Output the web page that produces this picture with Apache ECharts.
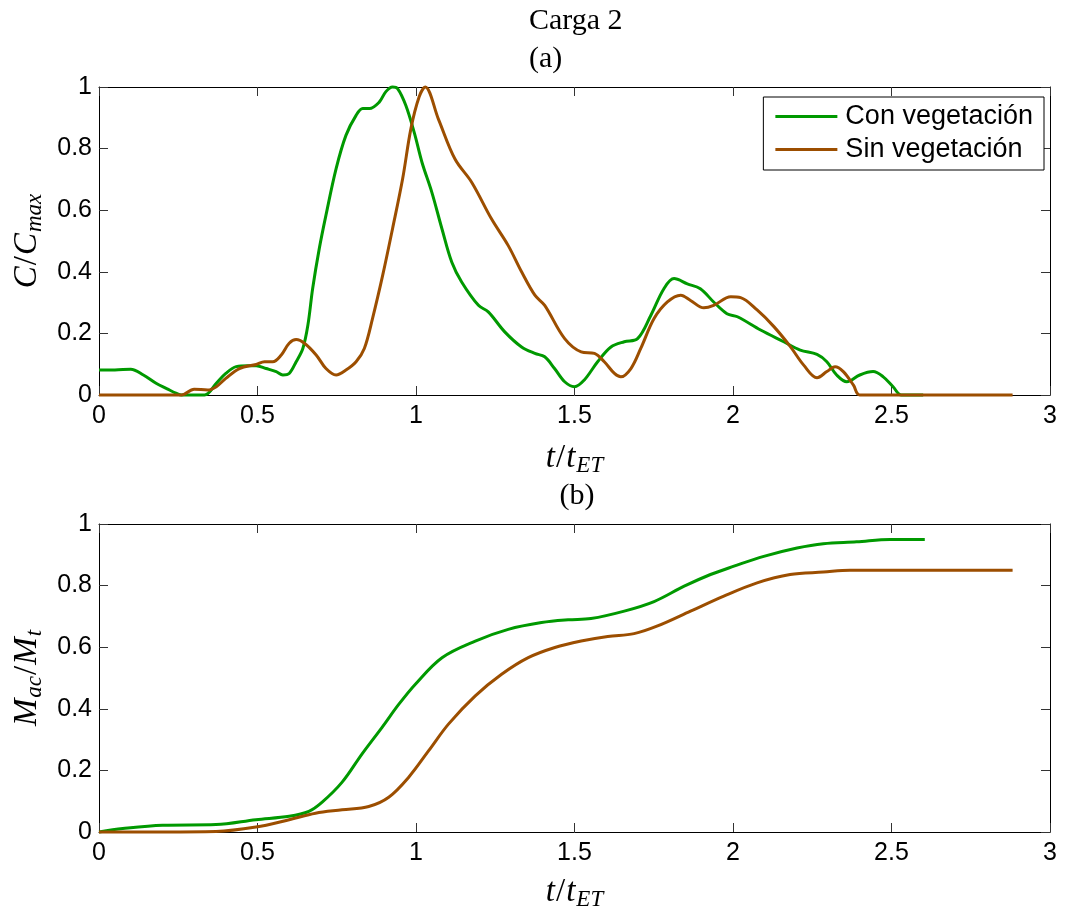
<!DOCTYPE html>
<html>
<head>
<meta charset="utf-8">
<script src="https://cdn.jsdelivr.net/npm/echarts@6/dist/echarts.min.js"></script>
<style>
html,body{margin:0;padding:0;background:#fff;}
#chart{width:1066px;height:912px;}
</style>
</head>
<body>
<div id="chart"></div>
<script>
// ---------- Data ----------
const seriesNames = ['Con vegetación', 'Sin vegetación'];
const xTicks = [0, 0.5, 1, 1.5, 2, 2.5, 3];
const yTicks = [0, 0.2, 0.4, 0.6, 0.8, 1];

// (a) C/Cmax — Con vegetación
const conA_x = [0,0.05,0.10,0.14,0.18,0.215,0.245,0.26,0.333,0.37,0.40,0.433,0.47,0.496,0.527,0.559,0.58,0.60,0.622,0.643,0.659,0.674,0.695,0.716,0.748,0.779,0.811,0.832,0.853,0.884,0.905,0.926,0.942,0.968,0.995,1.019,1.05,1.082,1.113,1.144,1.197,1.228,1.28,1.333,1.375,1.406,1.437,1.469,1.50,1.531,1.573,1.615,1.657,1.699,1.741,1.782,1.814,1.856,1.897,1.939,1.981,2.014,2.087,2.16,2.212,2.265,2.296,2.327,2.359,2.40,2.442,2.474,2.505,2.531,2.60];
const conA_y = [0.081,0.081,0.084,0.065,0.038,0.02,0.005,0,0,0.038,0.07,0.092,0.095,0.095,0.086,0.076,0.065,0.07,0.108,0.151,0.227,0.346,0.476,0.584,0.735,0.843,0.908,0.93,0.93,0.951,0.985,1.0,0.995,0.94,0.85,0.755,0.658,0.539,0.431,0.367,0.291,0.27,0.205,0.156,0.135,0.124,0.086,0.043,0.027,0.049,0.108,0.156,0.173,0.183,0.259,0.345,0.378,0.361,0.345,0.302,0.264,0.254,0.211,0.173,0.146,0.132,0.108,0.065,0.043,0.065,0.076,0.059,0.027,0,0];

// (a) C/Cmax — Sin vegetación
const sinA_x = [0,0.26,0.30,0.343,0.37,0.40,0.443,0.496,0.522,0.548,0.575,0.60,0.622,0.648,0.685,0.716,0.748,0.779,0.811,0.837,0.863,0.895,0.926,0.958,0.984,1.01,1.029,1.071,1.123,1.176,1.238,1.291,1.333,1.375,1.406,1.469,1.521,1.563,1.594,1.626,1.646,1.678,1.709,1.751,1.793,1.835,1.866,1.908,1.939,1.993,2.024,2.076,2.129,2.181,2.223,2.265,2.296,2.322,2.348,2.38,2.40,2.882];
const sinA_y = [0,0,0.019,0.016,0.027,0.054,0.086,0.099,0.108,0.108,0.13,0.168,0.18,0.168,0.13,0.086,0.065,0.081,0.108,0.151,0.249,0.389,0.54,0.703,0.865,0.968,1.0,0.895,0.766,0.69,0.572,0.485,0.4,0.324,0.291,0.183,0.14,0.135,0.108,0.07,0.059,0.086,0.151,0.248,0.302,0.324,0.307,0.283,0.291,0.319,0.316,0.276,0.222,0.157,0.097,0.056,0.076,0.092,0.076,0.032,0,0];

// (b) Mac/Mt — Con vegetación
const conB_x = [0,0.075,0.201,0.369,0.495,0.60,0.662,0.704,0.767,0.83,0.893,0.946,0.998,1.082,1.187,1.291,1.396,1.48,1.552,1.657,1.751,1.846,1.929,2.003,2.097,2.202,2.285,2.39,2.495,2.605];
const conB_y = [0,0.011,0.022,0.024,0.04,0.051,0.067,0.097,0.162,0.254,0.34,0.415,0.48,0.566,0.62,0.658,0.68,0.689,0.693,0.717,0.748,0.798,0.836,0.863,0.895,0.922,0.936,0.942,0.95,0.95];

// (b) Mac/Mt — Sin vegetación
const sinB_x = [0,0.369,0.495,0.60,0.683,0.767,0.851,0.914,0.977,1.04,1.103,1.187,1.27,1.354,1.438,1.521,1.605,1.688,1.762,1.866,1.971,2.076,2.18,2.285,2.369,2.882];
const sinB_y = [0,0.002,0.016,0.04,0.061,0.072,0.083,0.113,0.178,0.264,0.351,0.442,0.512,0.566,0.599,0.62,0.635,0.644,0.669,0.717,0.766,0.809,0.836,0.844,0.85,0.85];

// ---------- Styles ----------
const GREEN = '#009900';
const BROWN = '#9C4E00';
const SANS = '"Liberation Sans", Arial, Helvetica, sans-serif';
const SERIF = '"Liberation Serif", "DejaVu Serif", serif';

const pairs = (xs, ys) => xs.map((x, i) => [x, ys[i]]);

const mathRich = {
  i: { fontFamily: SERIF, fontStyle: 'italic', fontSize: 33, color: '#000' },
  n: { fontFamily: SERIF, fontSize: 33, color: '#000', padding: [0, 1, 0, 1] },
  s: { fontFamily: SERIF, fontStyle: 'italic', fontSize: 23, color: '#000', padding: [15, 0, 0, 1] }
};

function mainX(gi, name, gap) {
  return {
    type: 'value', gridIndex: gi, min: 0, max: 3, interval: 0.5, position: 'bottom',
    axisLine: { show: true, onZero: false, lineStyle: { color: '#000', width: 1 } },
    axisTick: { show: true, inside: true, length: 9, lineStyle: { color: '#333' } },
    axisLabel: { show: true, fontFamily: SANS, fontSize: 25, color: '#000', margin: 9,
      formatter: v => String(v) },
    splitLine: { show: false },
    name: name, nameLocation: 'middle', nameGap: gap,
    nameTextStyle: { fontSize: 33, fontFamily: SERIF, rich: mathRich }
  };
}
function mirrorX(gi) {
  return {
    type: 'value', gridIndex: gi, min: 0, max: 3, interval: 0.5, position: 'top',
    axisLine: { show: true, onZero: false, lineStyle: { color: '#000', width: 1 } },
    axisTick: { show: true, inside: true, length: 9, lineStyle: { color: '#333' } },
    axisLabel: { show: false }, splitLine: { show: false }
  };
}
function mainY(gi, name) {
  return {
    type: 'value', gridIndex: gi, min: 0, max: 1, interval: 0.2, position: 'left',
    axisLine: { show: true, onZero: false, lineStyle: { color: '#000', width: 1 } },
    axisTick: { show: true, inside: true, length: 9, lineStyle: { color: '#333' } },
    axisLabel: { show: true, fontFamily: SANS, fontSize: 25, color: '#000', margin: 7,
      formatter: v => String(Math.round(v * 10) / 10) },
    splitLine: { show: false },
    name: name, nameLocation: 'middle', nameGap: 52, nameRotate: 90,
    nameTextStyle: { fontSize: 33, fontFamily: SERIF, rich: mathRich }
  };
}
function mirrorY(gi) {
  return {
    type: 'value', gridIndex: gi, min: 0, max: 1, interval: 0.2, position: 'right',
    axisLine: { show: true, onZero: false, lineStyle: { color: '#000', width: 1 } },
    axisTick: { show: true, inside: true, length: 9, lineStyle: { color: '#333' } },
    axisLabel: { show: false }, splitLine: { show: false }
  };
}

function lineSeries(name, color, xi, yi, data) {
  return {
    name: name, type: 'line', xAxisIndex: xi, yAxisIndex: yi, data: data,
    showSymbol: false, symbol: 'none', smooth: 0.35, clip: false,
    lineStyle: { color: color, width: 3 }, itemStyle: { color: color },
    emphasis: { disabled: true }, animation: false
  };
}

const xName = '{i|t}{n|/}{i|t}{s|ET}';
const titleStyle = { fontFamily: SERIF, fontSize: 30, fontWeight: 'normal', color: '#000' };
const option = {
  backgroundColor: '#fff',
  animation: false,
  title: [
    { text: 'Carga 2', left: 529, top: 6, textStyle: titleStyle, padding: 0 },
    { text: '(a)', left: 529, top: 44, textStyle: titleStyle, padding: 0 },
    { text: '(b)', left: 577, top: 481, textAlign: 'center', textStyle: titleStyle, padding: 0 }
  ],
  legend: {
    show: true, orient: 'vertical', right: 22, top: 97,
    data: [{ name: seriesNames[0], icon: 'rect' }, { name: seriesNames[1], icon: 'rect' }],
    itemWidth: 62, itemHeight: 3, itemGap: 6,
    borderColor: '#000', borderWidth: 1, borderRadius: 0,
    padding: [6, 11, 7, 12], backgroundColor: '#fff',
    textStyle: { fontFamily: SANS, fontSize: 27, color: '#000', padding: [0, 0, 0, 3] },
    selectedMode: false
  },
  grid: [
    { left: 99, right: 16, top: 87, height: 308, show: false, containLabel: false },
    { left: 99, right: 16, top: 524, height: 309, show: false, containLabel: false }
  ],
  xAxis: [mainX(0, xName, 44), mirrorX(0), mainX(1, xName, 41), mirrorX(1)],
  yAxis: [
    mainY(0, '{i|C}{n|/}{i|C}{s|max}'), mirrorY(0),
    mainY(1, '{i|M}{s|ac}{n|/}{i|M}{s|t}'), mirrorY(1)
  ],
  series: [
    lineSeries(seriesNames[0], GREEN, 0, 0, pairs(conA_x, conA_y)),
    lineSeries(seriesNames[1], BROWN, 0, 0, pairs(sinA_x, sinA_y)),
    lineSeries(seriesNames[0], GREEN, 2, 2, pairs(conB_x, conB_y)),
    lineSeries(seriesNames[1], BROWN, 2, 2, pairs(sinB_x, sinB_y))
  ]
};

const chart = echarts.init(document.getElementById('chart'), null, { renderer: 'canvas' });
chart.setOption(option);
</script>
</body>
</html>
